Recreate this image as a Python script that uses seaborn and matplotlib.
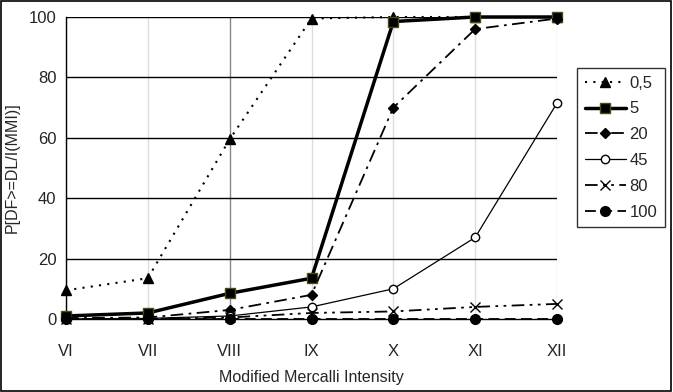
import matplotlib
matplotlib.use("Agg")
import matplotlib.pyplot as plt
import seaborn as sns
import pandas as pd
from matplotlib.patches import Rectangle

# Data
intensities = ["VI", "VII", "VIII", "IX", "X", "XI", "XII"]
p_05 = [9.5, 13.5, 59.5, 99.5, 100, 100, 100]
p_5 = [1, 2, 8.5, 13.5, 98.5, 100, 100]
p_20 = [0.3, 0.5, 3, 8, 70, 96, 99.5]
p_45 = [0, 0.2, 1, 4, 10, 27, 71.5]
p_80 = [0, 0, 0.5, 2, 2.5, 4, 5]
p_100 = [0, 0, 0, 0, 0, 0, 0]
series_names = ["0,5", "5", "20", "45", "80", "100"]

sns.set_style("white")
plt.rcParams['font.family'] = ['Liberation Sans', 'DejaVu Sans']

styles = {
    "0,5": dict(linestyle=(0, (1, 3)), lw=1.5, marker="^", ms=7, mfc="black", mec="black"),
    "5": dict(linestyle="-", lw=2.5, marker="s", ms=7, mfc="black", mec="#4a4a1a"),
    "20": dict(linestyle=(0, (7, 3, 1.5, 3)), lw=1.3, marker="D", ms=5, mfc="black", mec="black"),
    "45": dict(linestyle="-", lw=0.9, marker="o", ms=6, mfc="white", mec="black"),
    "80": dict(linestyle=(0, (7, 3, 1.5, 3, 1.5, 3)), lw=1.3, marker="x", ms=7, mfc="black", mec="black"),
    "100": dict(linestyle=(0, (6, 3)), lw=1.3, marker="o", ms=7, mfc="black", mec="black"),
}

x = list(range(len(intensities)))
values = [p_05, p_5, p_20, p_45, p_80, p_100]

fig = plt.figure(figsize=(6.73, 3.92), dpi=100)
ax = fig.add_axes([66 / 673, 1 - 319 / 392, (557 - 66) / 673, (319 - 17) / 392])

# vertical grid lines (VIII drawn darker, as in the original)
for i in x:
    ax.axvline(i, color="#888888" if intensities[i] == "VIII" else "#dddddd", lw=1, zorder=0)
for yv in [20, 40, 60, 80, 100]:
    ax.axhline(yv, color="black", lw=1, zorder=1)

for name, vals in zip(series_names, values):
    df = pd.DataFrame({"MMI": x, "P": vals})
    st = styles[name]
    sns.lineplot(data=df, x="MMI", y="P", ax=ax, color="black", label=name,
                 linestyle=st["linestyle"], lw=st["lw"], marker=st["marker"],
                 markersize=st["ms"], markerfacecolor=st["mfc"],
                 markeredgecolor=st["mec"], markeredgewidth=1.0,
                 clip_on=False, zorder=3)

ax.set_xlim(0, 6)
ax.set_ylim(0, 100)
ax.set_xticks(x)
ax.set_xticklabels(intensities)
ax.set_xticks([i + 0.5 for i in x[:-1]], minor=True)
ax.set_yticks([0, 20, 40, 60, 80, 100])
ax.tick_params(axis="x", which="major", length=0, pad=18, labelsize=12)
ax.tick_params(axis="x", which="minor", direction="inout", length=8, width=1, color="black")
ax.tick_params(axis="y", length=0, pad=7, labelsize=12)
for side in ["top", "right"]:
    ax.spines[side].set_visible(False)
ax.spines["left"].set_color("black")
ax.spines["bottom"].set_color("black")
ax.spines["left"].set_linewidth(1)
ax.spines["bottom"].set_linewidth(1)

ax.set_xlabel("Modified Mercalli Intensity", fontsize=11.5, labelpad=8)
ax.set_ylabel("P[DF>=DL/I(MMI)]", fontsize=11.5, labelpad=6)

leg = ax.legend(loc="upper left", bbox_to_anchor=(577 / 673, 1 - 68 / 392),
                bbox_transform=fig.transFigure, borderaxespad=0, fontsize=12,
                frameon=True, fancybox=False, handlelength=2.5, labelspacing=0.65,
                handletextpad=0.2, borderpad=0.45)
leg.get_frame().set_edgecolor("black")
leg.get_frame().set_linewidth(1)

# outer frame around the figure
fig.patches.append(Rectangle((0.002, 0.003), 0.995, 0.994, transform=fig.transFigure,
                             fill=False, edgecolor="black", lw=1.2))

fig.savefig("out.png", dpi=100)
